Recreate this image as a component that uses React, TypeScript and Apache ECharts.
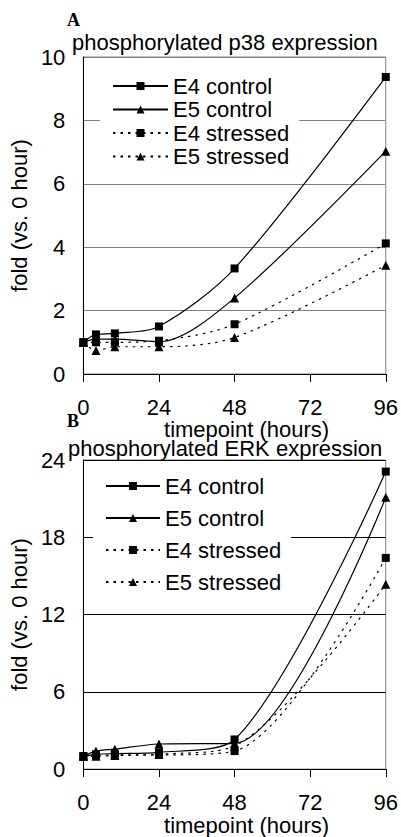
import React, { useEffect, useRef } from "react";
import * as echarts from "echarts";

const timepoints = [0, 4, 10, 24, 48, 96];
const seriesNames = ["E4 control", "E5 control", "E4 stressed", "E5 stressed"];
const xTicks = [0, 24, 48, 72, 96];

// Panel A: phosphorylated p38 expression
const e4ControlA = [1.0, 1.25, 1.28, 1.5, 3.33, 9.37];
const e5ControlA = [1.0, 1.1, 1.1, 1.02, 2.4, 7.03];
const e4StressedA = [1.0, 1.0, 1.0, 1.05, 1.57, 4.12];
const e5StressedA = [1.0, 0.74, 0.86, 0.86, 1.15, 3.43];

// Panel B: phosphorylated ERK expression
const e4ControlB = [1.0, 1.15, 1.2, 1.3, 2.3, 23.1];
const e5ControlB = [1.0, 1.4, 1.55, 1.95, 2.0, 21.1];
const e4StressedB = [1.0, 1.05, 1.1, 1.1, 1.4, 16.4];
const e5StressedB = [1.0, 1.0, 1.05, 1.15, 1.8, 14.35];

const FONT = "'Liberation Sans', Arial, sans-serif";
const FS = 22;

export default function App() {
  const ref = useRef<HTMLDivElement>(null);

  useEffect(() => {
    if (!ref.current) return;
    const chart = echarts.init(ref.current, null, { renderer: "svg" });

    const pair = (vals: number[]) => timepoints.map((t, i) => [t, vals[i]]);
    const styles = [
      { symbol: "rect", symbolSize: 8, type: "solid" },
      { symbol: "triangle", symbolSize: 9, type: "solid" },
      { symbol: "rect", symbolSize: 8, type: [2.5, 5] },
      { symbol: "triangle", symbolSize: 9, type: [2.5, 5] },
    ];
    const mk = (name: string, vals: number[], idx: number, s: any) => ({
      type: "line",
      name,
      xAxisIndex: idx,
      yAxisIndex: idx,
      data: pair(vals),
      smooth: 0.3,
      symbol: s.symbol,
      symbolSize: s.symbolSize,
      showAllSymbol: true,
      itemStyle: { color: "#000" },
      lineStyle: { color: "#000", width: 1.2, type: s.type },
    });
    const dataA = [e4ControlA, e5ControlA, e4StressedA, e5StressedA];
    const dataB = [e4ControlB, e5ControlB, e4StressedB, e5StressedB];
    const series: any[] = [];
    seriesNames.forEach((n, i) => series.push(mk(n, dataA[i], 0, styles[i])));
    seriesNames.forEach((n, i) => series.push(mk(n, dataB[i], 1, styles[i])));

    const xAxisBase = (gridIndex: number) => ({
      type: "value",
      gridIndex,
      min: 0,
      max: 96,
      interval: 24,
      name: "timepoint (hours)",
      nameLocation: "middle",
      nameGap: 35,
      nameTextStyle: { fontFamily: FONT, fontSize: FS, color: "#000", padding: [0, 0, 0, 24] },
      axisLine: { lineStyle: { color: "#000", width: 1 } },
      axisTick: { show: true, length: 8, lineStyle: { color: "#000" } },
      axisLabel: { fontFamily: FONT, fontSize: FS, color: "#000", margin: 22, customValues: xTicks },
      splitLine: { show: false },
    });
    const yAxisBase = (gridIndex: number, max: number, interval: number, gridColor: string, nameGap: number) => ({
      type: "value",
      gridIndex,
      min: 0,
      max,
      interval,
      name: "fold (vs. 0 hour)",
      nameLocation: "middle",
      nameGap,
      nameTextStyle: { fontFamily: FONT, fontSize: FS, color: "#000" },
      axisLine: { show: true, lineStyle: { color: "#000", width: 1 } },
      axisTick: { show: false },
      axisLabel: { fontFamily: FONT, fontSize: FS, color: "#000", margin: 18 },
      splitLine: { show: true, lineStyle: { color: gridColor, width: 1 } },
    });

    const legendBase = (left: number, top: number, gap: number, width: number) => ({
      orient: "vertical",
      left,
      top,
      itemGap: gap,
      itemWidth: width,
      itemHeight: 10,
      backgroundColor: "#fff",
      padding: [4, 10, 4, 12],
      textStyle: { fontFamily: FONT, fontSize: FS, color: "#000", lineHeight: 22 },
      data: seriesNames,
      selectedMode: false,
    });

    chart.setOption({
      animation: false,
      backgroundColor: "#fff",
      title: [
        { text: "A", left: 67, top: 11, padding: 0, textStyle: { fontFamily: "'Liberation Serif', 'Times New Roman', serif", fontWeight: "bold", fontSize: 18, color: "#000" } },
        { text: "phosphorylated p38 expression", left: 72, top: 31, padding: 0, textStyle: { fontFamily: FONT, fontSize: FS, fontWeight: "normal", color: "#000" } },
        { text: "B", left: 67, top: 412, padding: 0, textStyle: { fontFamily: "'Liberation Serif', 'Times New Roman', serif", fontWeight: "bold", fontSize: 18, color: "#000" } },
        { text: "phosphorylated ERK expression", left: 68, top: 437, padding: 0, textStyle: { fontFamily: FONT, fontSize: FS, lineHeight: 22, fontWeight: "normal", color: "#000" } },
      ],
      grid: [
        { left: 70, right: 15, top: 57, height: 317, show: true, borderColor: "#808080", borderWidth: 1, containLabel: false },
        { left: 71, right: 13, top: 460, height: 319, show: true, borderColor: "#808080", borderWidth: 1, containLabel: false },
      ],
      xAxis: [xAxisBase(0), xAxisBase(1)],
      yAxis: [yAxisBase(0, 10, 2, "#808080", 39), yAxisBase(1, 24, 6, "#000", 38)],
      legend: [legendBase(100, 71, 1.5, 55), legendBase(93, 471, 10, 54)],
      series,
    });

    return () => chart.dispose();
  }, []);

  return (
    <div
      ref={ref}
      style={{ position: "absolute", left: 0, top: 0, width: 401, height: 837 }}
    />
  );
}
